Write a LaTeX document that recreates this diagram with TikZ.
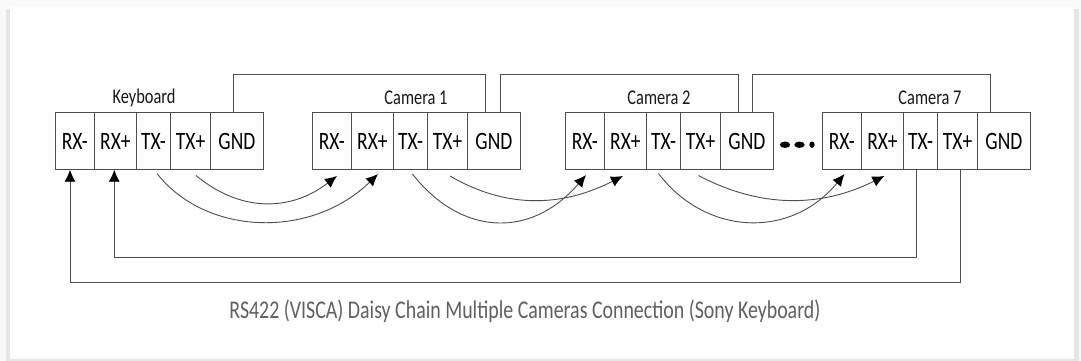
\documentclass[tikz,border=0pt]{standalone}
\usepackage{fontspec}
\setmainfont[FakeStretch=0.78]{Carlito}
\usetikzlibrary{arrows.meta}
\definecolor{shadowgray}{HTML}{E6E6E6}
\definecolor{pagegray}{HTML}{FAFAFA}
\definecolor{wiregray}{HTML}{4D4D4D}
\definecolor{captiongray}{HTML}{606060}
\tikzset{
  pin/.style={draw=wiregray, line width=0.9pt, minimum height=56.5pt, inner sep=0pt, font=\fontsize{25}{28}\selectfont, text=black},
  label/.style={font=\fontsize{21}{24}\selectfont, text=black!90},
  wire/.style={draw=wiregray, line width=0.9pt},
  link/.style={wire, -{Latex[black,length=12pt,width=11pt]}},
  uplink/.style={wire, -{Latex[black,length=12pt,width=11pt]}}
}
\newcommand{\terminal}[2]{%
  % five pins from left to right, #1 names the block, #2 is its left edge
  \node[pin, minimum width=39.6pt] (#1a) at (#2+19.8,141) {RX-};
  \node[pin, minimum width=41.7pt] (#1b) at (#2+60.45,141) {RX+};
  \node[pin, minimum width=34.5pt] (#1c) at (#2+98.55,141) {TX-};
  \node[pin, minimum width=39.6pt] (#1d) at (#2+135.6,141) {TX+};
  \node[pin, minimum width=53pt] (#1e) at (#2+181.9,141) {GND};
}
\begin{document}
\begin{tikzpicture}[x=1pt,y=-1pt]
  \useasboundingbox (0,0) rectangle (1081,361);
  % page
  \fill[pagegray] (0,0) rectangle (1081,361);
  \fill[shadowgray] (6,9) rectangle (1079,361);
  \fill[white] (10,7) rectangle (1074,359);

  % blocks
  \terminal{key}{55}
  \terminal{camA}{312}
  \terminal{camB}{565}
  \terminal{camC}{822}

  \node[label] (keylabel) at (144,98) {Keyboard};
  \node[label] (camAlabel) at (416,98) {Camera 1};
  \node[label] (camBlabel) at (659,98) {Camera 2};
  \node[label] (camClabel) at (930,98) {Camera 7};

  % dots
  \fill[black] (785,144.7) ellipse (5.2pt and 3.2pt);
  \fill[black] (799.5,144.7) ellipse (5.2pt and 3.2pt);
  \fill[black] (812,144.7) ellipse (2.7pt and 3.2pt);

  % GND wires
  \coordinate (topA) at (233,74.5);
  \draw[wire] (keye.north -| topA) -- (topA) -| (485.5,112.7);
  \coordinate (topB) at (500,74.5);
  \draw[wire] (camAe.north -| topB) -- (topB) -| (738.4,112.7);
  \coordinate (topC) at (752,74.5);
  \draw[wire] (camBe.north -| topC) -- (topC) -| (990,112.7);

  % forward curves
  \coordinate (keyc1) at (157,173.5);
  \coordinate (keyd1) at (196,175.5);
  \draw[link] (keyc1) .. controls (205,235) and (310,240) .. (378,174);
  \draw[link] (keyd1) .. controls (240,212) and (290,212) .. (337,176);
  \coordinate (camAc1) at (412.5,174);
  \coordinate (camAd1) at (450,176);
  \draw[link] (camAc1) .. controls (460,235) and (530,240) .. (586,175);
  \draw[link] (camAd1) .. controls (505,208) and (560,208) .. (623,176);
  \coordinate (camBc1) at (658.5,173.5);
  \coordinate (camBd1) at (698.5,175.5);
  \draw[link] (camBc1) .. controls (705,235) and (790,240) .. (844.5,174);
  \draw[link] (camBd1) .. controls (760,208) and (820,208) .. (884.5,176);

  % return lines
  \coordinate (lowA) at (916.5,257);
  \coordinate (lowB) at (960.3,282.7);
  \draw[uplink] (camCc.south -| lowA) -- (lowA) -| (keyb.south -| 114.3,0);
  \draw[uplink] (camCd.south -| lowB) -- (lowB) -| (keya.south -| 70,0);

  \node[font=\fontsize{25.5}{28}\selectfont, text=captiongray] (caption) at (525,311) {RS422 (VISCA) Daisy Chain Multiple Cameras Connection (Sony Keyboard)};
\end{tikzpicture}
\end{document}
